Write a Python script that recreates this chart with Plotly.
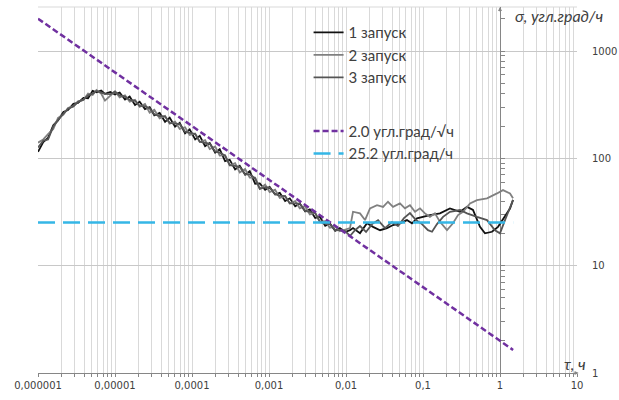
import plotly.graph_objects as go

# ---------------- data ----------------
TAU_EARLY = [1.00e-6, 1.17e-6, 1.35e-6, 1.58e-6, 1.82e-6, 2.14e-6, 2.45e-6, 2.88e-6, 3.31e-6, 3.89e-6,
             4.47e-6, 5.13e-6, 5.75e-6, 6.61e-6, 7.41e-6, 8.71e-6, 1.00e-5, 1.15e-5, 1.35e-5, 1.55e-5,
             1.82e-5, 2.09e-5, 2.45e-5, 2.82e-5, 3.24e-5, 3.80e-5, 4.47e-5, 5.13e-5, 6.03e-5, 6.92e-5,
             8.13e-5, 9.33e-5, 1.10e-4, 1.26e-4, 1.48e-4, 1.70e-4, 2.00e-4, 2.29e-4, 2.69e-4, 3.09e-4,
             3.63e-4, 4.17e-4, 4.90e-4, 5.62e-4, 6.61e-4, 7.59e-4, 8.91e-4, 1.02e-3, 1.20e-3, 1.38e-3,
             1.62e-3, 1.86e-3, 2.19e-3, 2.51e-3, 2.95e-3, 3.39e-3, 3.98e-3, 4.57e-3, 5.37e-3, 6.17e-3,
             7.24e-3, 8.32e-3, 9.77e-3]

RUN1_EARLY = [115, 142, 155, 203, 226, 270, 282, 322, 328, 366,
              363, 425, 412, 428, 399, 416, 394, 410, 353, 376,
              314, 337, 288, 300, 252, 265, 219, 239, 197, 214,
              171, 186, 150, 162, 130, 139, 113, 122, 94, 97,
              79, 85, 70.5, 76, 58, 58.5, 51, 54, 46, 47.7,
              40, 42.4, 35.7, 38, 32, 33.4, 27.8, 28.6, 23.5, 24.7,
              21.1, 22.4, 20.6]
RUN2_EARLY = [140, 150, 168, 188, 238, 256, 294, 306, 340, 350,
              401, 389, 433, 402, 345, 388, 422, 370, 387, 337,
              351, 302, 321, 266, 284, 236, 248, 210, 220, 188,
              195, 165, 170, 142, 148, 122, 129, 106, 107, 86,
              90, 74, 79.5, 66, 66, 52, 57, 48.5, 51, 42.8,
              44.5, 38, 40, 34.2, 35.8, 30, 31, 25.7, 26, 22.6,
              23.1, 20.9, 21.5]
RUN3_EARLY = [126, 146, 150, 198, 228, 258, 290, 304, 336, 352,
              386, 400, 424, 410, 398, 396, 418, 386, 376, 350,
              344, 308, 306, 291, 257, 248, 245, 214, 210, 208,
              177, 174, 168, 143, 140, 136.5, 116, 113, 106, 86.5,
              85, 83, 71, 71, 65, 52, 54, 53.5, 46.4, 45,
              44.5, 38, 38, 37.8, 32.4, 31.5, 31, 25.7, 24.7, 24.4,
              21.3, 21.5, 21]

RUN1_TAU_LATE = [0.01127, 0.01233, 0.0152, 0.01875, 0.02244, 0.0277, 0.0341, 0.0408, 0.0502, 0.0619, 0.0719,
                 0.0835, 0.1, 0.123, 0.166, 0.224, 0.303, 0.373, 0.446, 0.550, 0.638, 0.787, 0.942, 1.161,
                 1.349, 1.476]
RUN1_LATE = [21.4, 22.4, 20.1, 24.9, 23.0, 21.4, 22.4, 23.9, 24.8, 26.6, 24.8, 27.6, 28.5, 29.6, 30.7, 34.2,
             31.8, 35.3, 33.0, 23.0, 20.0, 20.7, 23.0, 28.5, 34.0, 41.0]

RUN2_TAU_LATE = [0.01127, 0.01233, 0.0139, 0.0152, 0.01766, 0.0205, 0.0253, 0.0303, 0.0351, 0.0408, 0.0502,
                 0.0583, 0.0677, 0.0787, 0.0914, 0.106, 0.123, 0.143, 0.166, 0.205, 0.245, 0.285, 0.331,
                 0.408, 0.502, 0.678, 0.914, 1.094, 1.349, 1.476]
RUN2_LATE = [22.4, 31.8, 30.9, 30.7, 26.6, 34.2, 36.6, 35.3, 39.4, 35.3, 38.0, 34.2, 36.6, 31.8, 34.2, 30.7,
             28.5, 30.7, 25.6, 21.4, 24.8, 29.6, 31.8, 38.0, 40.8, 42.4, 47.1, 50.6, 47.1, 42.4]

RUN3_TAU_LATE = [0.01127, 0.0131, 0.0152, 0.0182, 0.0218, 0.0261, 0.0321, 0.0395, 0.0473, 0.0566, 0.0677,
                 0.0811, 0.0970, 0.116, 0.131, 0.152, 0.182, 0.224, 0.303, 0.373, 0.502, 0.678, 0.861, 1.0,
                 1.161, 1.349, 1.476]
RUN3_LATE = [18.9, 21.4, 23.4, 20.6, 24.4, 26.6, 22.4, 25.5, 23.4, 27.7, 30.9, 26.6, 24.4, 21.4, 20.7, 24.4,
             28.5, 31.8, 33.0, 30.7, 28.5, 26.6, 21.4, 20.0, 26.6, 35.3, 40.8]

ARW_TAU = [1e-6, 1.48]
ARW_SIGMA = [2000, 1.64]
BIAS_TAU = [1e-6, 1.48]
BIAS_SIGMA = [25.2, 25.2]

RUN_NAMES = ["1 запуск", "2 запуск", "3 запуск"]
ARW_NAME = "2.0 угл.град/√ч"
BIAS_NAME = "25.2 угл.град/ч"

X_TICK_VALS = [1e-6, 1e-5, 1e-4, 1e-3, 1e-2, 1e-1, 1, 10]
X_TICK_TEXT = ["0,000001", "0,00001", "0,0001", "0,001", "0,01", "0,1", "1", "10"]
Y_TICK_VALS = [1, 10, 100, 1000]
Y_TICK_TEXT = ["1", "10", "100", "1000"]

# minor positions (1..9 per decade) for gridlines / tick marks
x_minor = [m * d for d in [1e-6, 1e-5, 1e-4, 1e-3, 1e-2, 1e-1, 1] for m in range(1, 10)] + [10]
x_minor_text = [X_TICK_TEXT[X_TICK_VALS.index(v)] if v in X_TICK_VALS else "" for v in x_minor]
y_minor = [m * d for d in [1, 10, 100, 1000] for m in range(1, 10) if m * d <= 2600]

LBL_FONT = "DejaVu Sans"
TXT_FONT = "Lato, 'Open Sans', 'Noto Sans', sans-serif"
TXT_COLOR = "#404040"

fig = go.Figure()

run_colors = ["#111111", "#808080", "#555555"]
runs = [
    (TAU_EARLY + RUN1_TAU_LATE, RUN1_EARLY + RUN1_LATE),
    (TAU_EARLY + RUN2_TAU_LATE, RUN2_EARLY + RUN2_LATE),
    (TAU_EARLY + RUN3_TAU_LATE, RUN3_EARLY + RUN3_LATE),
]
for (tx, sy), name, col in zip(runs, RUN_NAMES, run_colors):
    fig.add_trace(go.Scatter(x=tx, y=sy, mode="lines", name=name, legendgroup="runs",
                             line=dict(color=col, width=1.8)))

fig.add_trace(go.Scatter(x=ARW_TAU, y=ARW_SIGMA, mode="lines", name=ARW_NAME, legendgroup="ref",
                         line=dict(color="#7030A0", width=2.5, dash="6px,3px")))
fig.add_trace(go.Scatter(x=BIAS_TAU, y=BIAS_SIGMA, mode="lines", name=BIAS_NAME, legendgroup="ref",
                         yaxis="y2", line=dict(color="#35B6E6", width=2.5, dash="17px,8px")))

Y_TOP = 3.41

# y tick labels, placed in the right margin (left-aligned, like the original)
import math
y_label_ann = [dict(text=t, xref="paper", yref="y", x=(590 - 38) / 539, y=math.log10(v),
                    xanchor="left", yanchor="middle", showarrow=False,
                    font=dict(family=LBL_FONT, size=10, color=TXT_COLOR))
               for v, t in zip(Y_TICK_VALS, Y_TICK_TEXT)]

fig.update_layout(
    width=619, height=400,
    margin=dict(l=38, r=42, t=7, b=27),
    plot_bgcolor="white", paper_bgcolor="white",
    showlegend=True,
    legend=dict(x=0.502, y=0.975, xanchor="left", yanchor="top", bgcolor="rgba(0,0,0,0)",
                font=dict(family=TXT_FONT, size=15, color=TXT_COLOR),
                tracegroupgap=31, traceorder="grouped"),
    xaxis=dict(type="log", range=[-6, 1], tickvals=x_minor, ticktext=x_minor_text,
               showgrid=True, gridcolor="#d9d9d9", gridwidth=1,
               showline=True, linecolor="#868686", linewidth=1,
               ticks="outside", ticklen=3, tickcolor="#868686",
               tickfont=dict(family=LBL_FONT, size=10, color=TXT_COLOR),
               zeroline=False, layer="below traces"),
    yaxis=dict(type="log", range=[0, Y_TOP], side="right", tickvals=Y_TICK_VALS,
               showticklabels=False,
               showgrid=True, gridcolor="#c8c8c8", gridwidth=1, showline=False, ticks="",
               zeroline=False, layer="below traces"),
    yaxis2=dict(type="log", range=[0, Y_TOP], overlaying="y", anchor="free", position=6 / 7, side="right",
                tickvals=y_minor, showticklabels=False, showgrid=False,
                showline=True, linecolor="#868686", linewidth=1,
                ticks="outside", ticklen=4, tickcolor="#868686",
                zeroline=False, layer="below traces"),
    shapes=[dict(type="line", xref="paper", yref="paper", x0=0, x1=1, y0=1, y1=1,
                 line=dict(color="#d9d9d9", width=1), layer="below")],
    annotations=y_label_ann + [
        dict(text="σ, угл.град/ч", xref="paper", yref="paper", x=0.881, y=0.978,
             xanchor="left", yanchor="middle", showarrow=False,
             font=dict(family=TXT_FONT, size=16, color=TXT_COLOR, style="italic")),
        dict(text="τ, ч", xref="paper", yref="paper", x=0.972, y=0.027,
             xanchor="left", yanchor="middle", showarrow=False,
             font=dict(family=TXT_FONT, size=16, color=TXT_COLOR, style="italic")),
        dict(text="", xref="paper", yref="paper", x=1.003, y=0, ax=-6, ay=0, showarrow=True,
             arrowhead=2, arrowsize=0.8, arrowwidth=1, arrowcolor="#868686"),
        dict(text="", xref="paper", yref="paper", x=6 / 7, y=1.0, ax=0, ay=6, showarrow=True,
             arrowhead=2, arrowsize=0.8, arrowwidth=1, arrowcolor="#868686"),
    ],
)

fig.write_html("out.html", config={"displayModeBar": False},
               post_script="document.body.style.margin='0';")
